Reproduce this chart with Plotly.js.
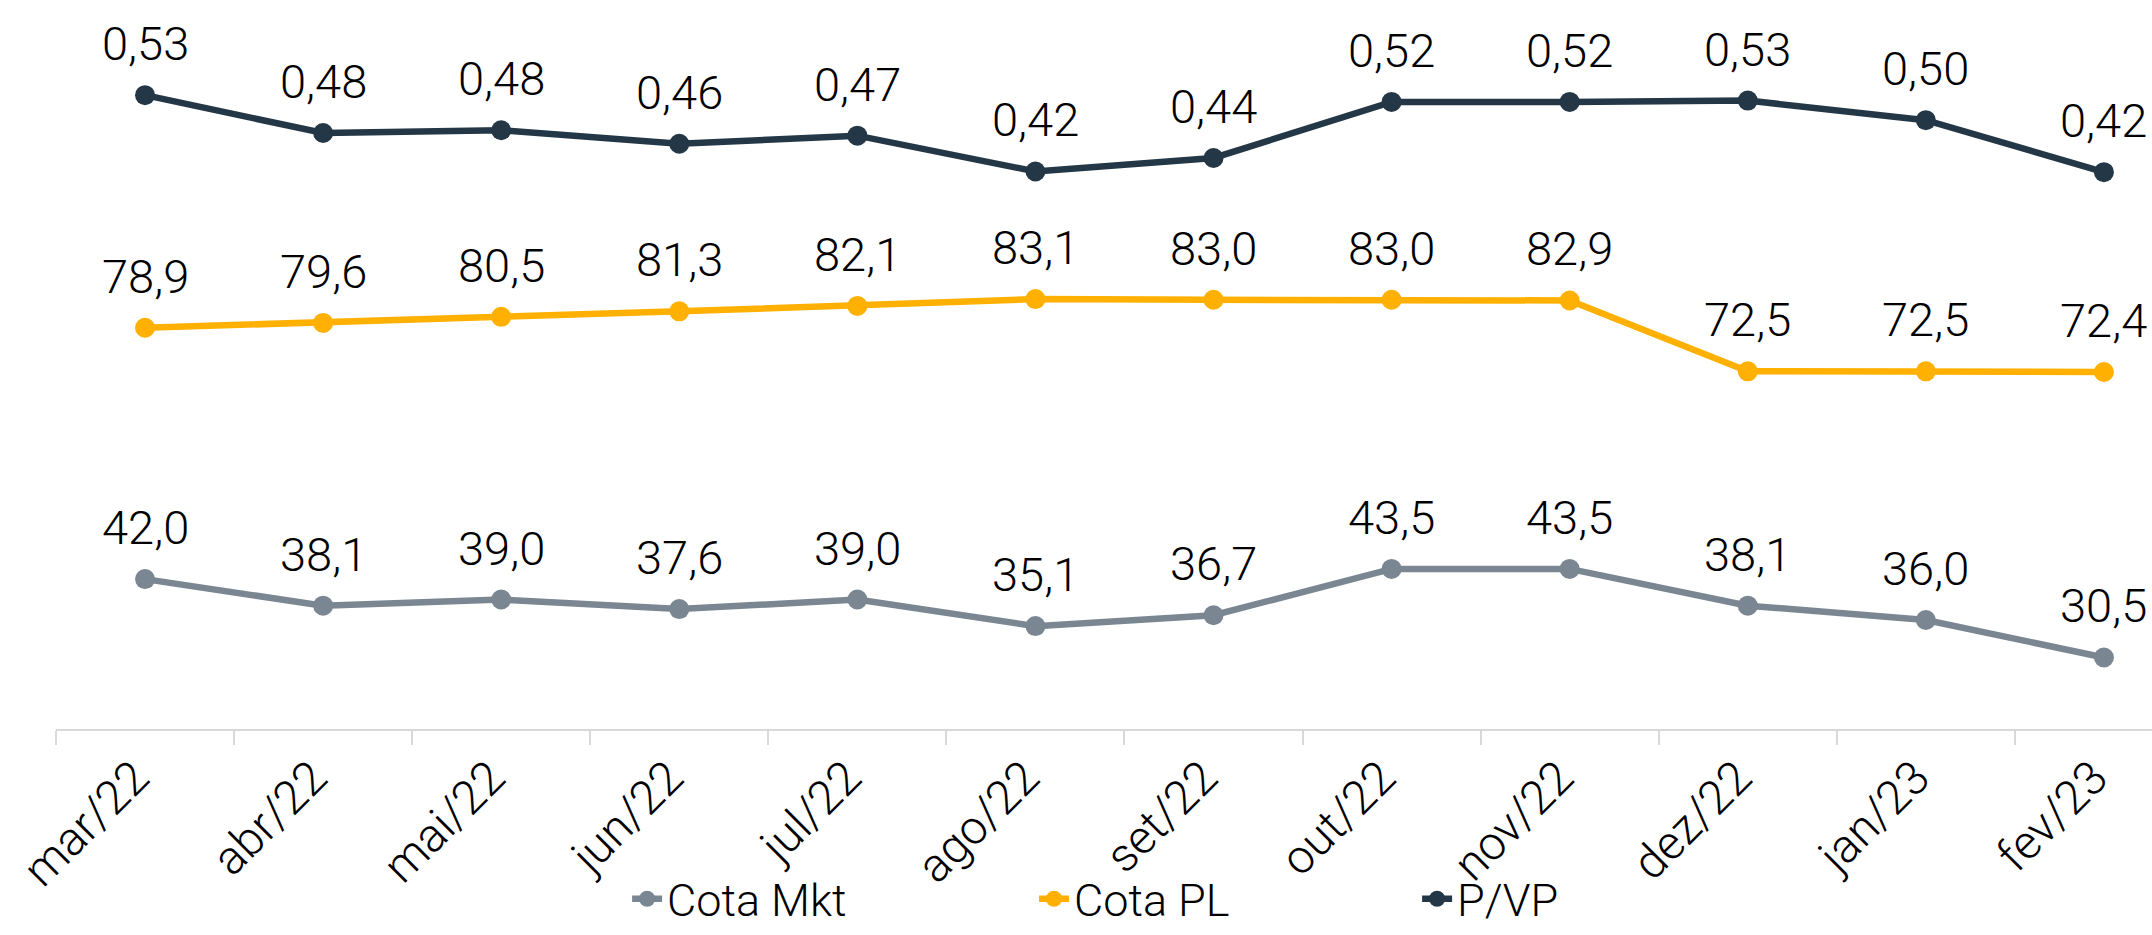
<!DOCTYPE html>
<html>
<head>
<meta charset="utf-8">
<script src="https://cdn.plot.ly/plotly-3.0.1.min.js"></script>
<style>
  html, body { margin: 0; padding: 0; background: #ffffff; }
  #chart { width: 2152px; height: 935px; }
</style>
</head>
<body>
<div id="chart"></div>
<script>
// ---- Data ----
var months = ["mar/22", "abr/22", "mai/22", "jun/22", "jul/22", "ago/22",
              "set/22", "out/22", "nov/22", "dez/22", "jan/23", "fev/23"];
var cotaMkt = [42.0, 38.1, 39.0, 37.6, 39.0, 35.1, 36.7, 43.5, 43.5, 38.1, 36.0, 30.5];
var cotaPL  = [78.9, 79.6, 80.5, 81.3, 82.1, 83.1, 83.0, 83.0, 82.9, 72.5, 72.5, 72.4];
var pvp     = [0.534, 0.478, 0.482, 0.462, 0.474, 0.421, 0.441, 0.524, 0.524, 0.526, 0.497, 0.420];

var seriesNames = ["Cota Mkt", "Cota PL", "P/VP"];
var colors = { mkt: "#7a8691", pl: "#ffb000", pvp: "#243746" };

var FONT = "Roboto, 'Open Sans', 'DejaVu Sans', sans-serif";
var FS = 47;
var LFS = 45;

function fmt(v, d) { return v.toFixed(d).replace(".", ","); }

function lineTrace(name, y, color, axis, legendId) {
  return {
    type: "scatter", mode: "lines+markers", name: name,
    x: months, y: y, yaxis: axis, legend: legendId,
    line: { color: color, width: 6.5 },
    marker: { color: color, size: 20 },
    hoverinfo: "skip", cliponaxis: false
  };
}

var traces = [
  lineTrace(seriesNames[0], cotaMkt, colors.mkt, "y", "legend"),
  lineTrace(seriesNames[1], cotaPL, colors.pl, "y", "legend2"),
  lineTrace(seriesNames[2], pvp, colors.pvp, "y2", "legend3")
];

var annotations = [];
function addLabels(vals, yref, dec) {
  for (var i = 0; i < months.length; i++) {
    annotations.push({
      x: months[i], y: vals[i], xref: "x", yref: yref,
      text: fmt(vals[i], dec), showarrow: false,
      xanchor: "center", yanchor: "bottom", yshift: 22,
      font: { family: FONT, size: FS, color: "#000000", weight: 300 }
    });
  }
}
addLabels(cotaMkt, "y", 1);
addLabels(cotaPL, "y", 1);
addLabels(pvp, "y2", 2);

function legendAt(xc) {
  return {
    orientation: "h", xref: "container", yref: "container",
    x: xc, xanchor: "left", y: 0, yanchor: "bottom",
    font: { family: FONT, size: LFS, color: "#000000", weight: 300 },
    bgcolor: "rgba(0,0,0,0)"
  };
}

var layout = {
  width: 2152, height: 935,
  paper_bgcolor: "#ffffff", plot_bgcolor: "#ffffff",
  margin: { l: 56, r: 0, t: 0, b: 206, autoexpand: false },
  font: { family: FONT, size: FS, color: "#000000", weight: 300 },
  showlegend: true,
  legend: legendAt(0.2914),
  legend2: legendAt(0.4805),
  legend3: legendAt(0.6585),
  xaxis: {
    type: "category", range: [-0.5, 11.27], automargin: false,
    showline: true, linecolor: "#d9d9d9", linewidth: 2,
    ticks: "outside", tickson: "boundaries", ticklen: 14, tickwidth: 2, tickcolor: "#d9d9d9",
    tickangle: -45, ticklabelstandoff: 0, ticklabelshift: -10,
    tickfont: { family: FONT, size: FS, color: "#000000", weight: 300 },
    showgrid: false, zeroline: false, fixedrange: true
  },
  yaxis: {
    range: [20, 127], visible: false, automargin: false,
    showgrid: false, zeroline: false, fixedrange: true
  },
  yaxis2: {
    range: [-0.405, 0.675], overlaying: "y", side: "right", automargin: false,
    visible: false, showgrid: false, zeroline: false, fixedrange: true
  },
  annotations: annotations
};

Plotly.newPlot("chart", traces, layout, { displayModeBar: false, staticPlot: true });
</script>
</body>
</html>
